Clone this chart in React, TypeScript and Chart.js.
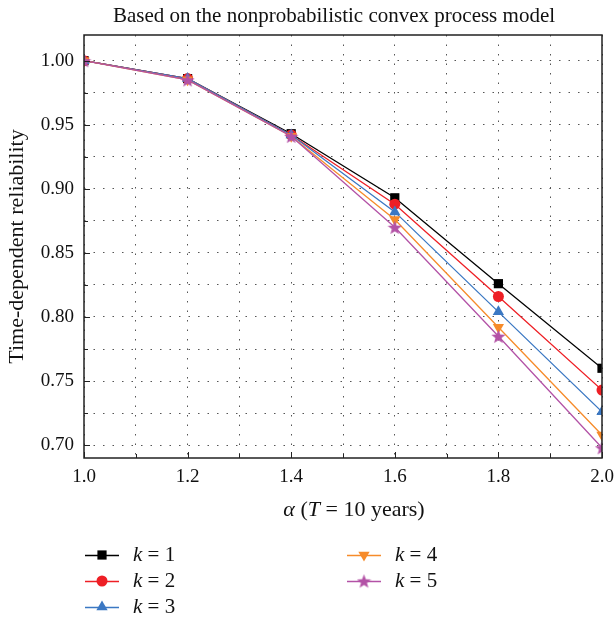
import { useEffect, useRef } from 'react';
import { Chart, registerables } from 'chart.js';

Chart.register(...registerables);

// ---- data ----
const alphaValues = [1.0, 1.2, 1.4, 1.6, 1.8, 2.0];
const k1Values = [1.0, 0.986, 0.943, 0.893, 0.826, 0.76];
const k2Values = [1.0, 0.986, 0.942, 0.888, 0.816, 0.743];
const k3Values = [1.0, 0.986, 0.942, 0.882, 0.804, 0.726];
const k4Values = [1.0, 0.985, 0.941, 0.876, 0.792, 0.708];
const k5Values = [1.0, 0.985, 0.941, 0.87, 0.785, 0.698];
const kLabels = ['1', '2', '3', '4', '5'];

const chartTitle = 'Based on the nonprobabilistic convex process model';
const yAxisTitle = 'Time-dependent reliability';

const FONT = '"Liberation Serif", "Times New Roman", serif';

const colors = ['#000000', '#ee1f25', '#3b78c3', '#f68b2a', '#b352a6'];
const markerKinds = ['rect', 'circle', 'triangle', 'tridown', 'star'];

function makeStar(color: string, size: number) {
  const c = document.createElement('canvas');
  c.width = size;
  c.height = size;
  const ctx = c.getContext('2d')!;
  const cx = size / 2;
  const cy = size / 2 + 0.8;
  const R = size / 2;
  const r = R * 0.42;
  ctx.beginPath();
  for (let i = 0; i < 10; i++) {
    const ang = -Math.PI / 2 + (i * Math.PI) / 5;
    const rad = i % 2 === 0 ? R : r;
    const x = cx + rad * Math.cos(ang);
    const y = cy + rad * Math.sin(ang);
    if (i === 0) ctx.moveTo(x, y);
    else ctx.lineTo(x, y);
  }
  ctx.closePath();
  ctx.fillStyle = color;
  ctx.fill();
  return c;
}

function drawMarker(ctx: CanvasRenderingContext2D, kind: string, x: number, y: number, color: string, star: HTMLCanvasElement) {
  ctx.save();
  ctx.fillStyle = color;
  ctx.beginPath();
  if (kind === 'rect') {
    ctx.rect(x - 4.6, y - 4.6, 9.2, 9.2);
    ctx.fill();
  } else if (kind === 'circle') {
    ctx.arc(x, y, 5.5, 0, Math.PI * 2);
    ctx.fill();
  } else if (kind === 'triangle') {
    const r = 6.5;
    ctx.moveTo(x, y - r);
    ctx.lineTo(x + r * 0.866, y + r * 0.5);
    ctx.lineTo(x - r * 0.866, y + r * 0.5);
    ctx.closePath();
    ctx.fill();
  } else if (kind === 'tridown') {
    const r = 6.5;
    ctx.moveTo(x, y + r);
    ctx.lineTo(x + r * 0.866, y - r * 0.5);
    ctx.lineTo(x - r * 0.866, y - r * 0.5);
    ctx.closePath();
    ctx.fill();
  } else if (kind === 'star') {
    ctx.drawImage(star, x - star.width / 2, y - star.height / 2);
  }
  ctx.restore();
}

function isMultiple(v: number, step: number) {
  const q = v / step;
  return Math.abs(q - Math.round(q)) < 1e-6;
}

export default function App() {
  const ref = useRef<HTMLCanvasElement | null>(null);

  useEffect(() => {
    if (!ref.current) return;
    const star = makeStar(colors[4], 15);
    const allValues = [k1Values, k2Values, k3Values, k4Values, k5Values];

    const datasets = allValues.map((vals, i) => {
      const kind = markerKinds[i];
      let pointStyle: any = kind;
      let rotation = 0;
      let radius = 5.5;
      if (kind === 'rect') radius = 6.5;
      if (kind === 'triangle') radius = 6.5;
      if (kind === 'tridown') {
        pointStyle = 'triangle';
        rotation = 180;
        radius = 6.5;
      }
      if (kind === 'star') pointStyle = star;
      return {
        label: 'k = ' + kLabels[i],
        data: alphaValues.map((a, j) => ({ x: a, y: vals[j] })),
        borderColor: colors[i],
        backgroundColor: colors[i],
        pointBackgroundColor: colors[i],
        pointBorderColor: colors[i],
        pointBorderWidth: 0,
        pointStyle,
        pointRotation: rotation,
        pointRadius: radius,
        borderWidth: 1.3,
        tension: 0,
        clip: 0,
        order: 4 - i,
      };
    });

    const decor = {
      id: 'decor',
      afterDraw(chart: any) {
        const ctx: CanvasRenderingContext2D = chart.ctx;
        const a = chart.chartArea;
        const xs = chart.scales.x;
        const ys = chart.scales.y;
        ctx.save();
        // inner ticks
        ctx.strokeStyle = '#222';
        ctx.lineWidth = 1;
        xs.ticks.forEach((t: any) => {
          if (!isMultiple(t.value, 0.1)) return;
          const px = Math.round(xs.getPixelForValue(t.value)) + 0.5;
          const len = isMultiple(t.value, 0.2) ? 6 : 4;
          ctx.beginPath();
          ctx.moveTo(px, a.bottom);
          ctx.lineTo(px, a.bottom - len);
          ctx.stroke();
        });
        ys.ticks.forEach((t: any) => {
          if (!isMultiple(t.value, 0.025)) return;
          const py = Math.round(ys.getPixelForValue(t.value)) + 0.5;
          const len = isMultiple(t.value, 0.05) ? 6 : 4;
          ctx.beginPath();
          ctx.moveTo(a.left, py);
          ctx.lineTo(a.left + len, py);
          ctx.stroke();
        });
        // frame
        ctx.strokeStyle = '#222';
        ctx.lineWidth = 1.5;
        ctx.strokeRect(a.left, a.top, a.right - a.left, a.bottom - a.top);

        // title
        ctx.fillStyle = '#111';
        ctx.font = '21px ' + FONT;
        ctx.textAlign = 'center';
        ctx.textBaseline = 'middle';
        ctx.fillText(chartTitle, 334, 16);

        // x axis title: α (T = 10 years)
        const parts: [string, boolean][] = [
          ['α', true],
          [' (', false],
          ['T', true],
          [' = 10 years)', false],
        ];
        const fNorm = '22px ' + FONT;
        const fItal = 'italic 22px ' + FONT;
        let total = 0;
        parts.forEach(([s, it]) => {
          ctx.font = it ? fItal : fNorm;
          total += ctx.measureText(s).width;
        });
        let cx = 354 - total / 2;
        ctx.textAlign = 'left';
        parts.forEach(([s, it]) => {
          ctx.font = it ? fItal : fNorm;
          ctx.fillText(s, cx, 510);
          cx += ctx.measureText(s).width;
        });

        // legend
        const slots = [
          { x: 85, y: 555 },
          { x: 85, y: 581 },
          { x: 85, y: 607 },
          { x: 347, y: 555 },
          { x: 347, y: 581 },
        ];
        chart.data.datasets.forEach((ds: any, i: number) => {
          const s = slots[i];
          ctx.strokeStyle = ds.borderColor;
          ctx.lineWidth = 1.3;
          ctx.beginPath();
          ctx.moveTo(s.x, s.y + 0.5);
          ctx.lineTo(s.x + 34, s.y + 0.5);
          ctx.stroke();
          drawMarker(ctx, markerKinds[i], s.x + 17, s.y, ds.borderColor, star);
          let tx = s.x + 48;
          ctx.fillStyle = '#111';
          ctx.font = 'italic 21px ' + FONT;
          ctx.fillText('k', tx, s.y);
          tx += ctx.measureText('k').width;
          ctx.font = '21px ' + FONT;
          ctx.fillText(' = ' + kLabels[i], tx, s.y);
        });
        ctx.restore();
      },
    };

    const chart = new Chart(ref.current, {
      type: 'line',
      data: { datasets: datasets as any },
      options: {
        animation: false,
        responsive: false,
        devicePixelRatio: 1,
        layout: { padding: { left: 0, top: 35, right: 13, bottom: 130 } },
        plugins: {
          legend: { display: false },
          title: { display: false },
          tooltip: { enabled: false },
        },
        scales: {
          x: {
            type: 'linear',
            min: 1,
            max: 2,
            afterFit: (s: any) => {
              s.height = 32;
              s.paddingLeft = 0;
              s.paddingRight = 0;
            },
            ticks: {
              stepSize: 0.1,
              color: '#111',
              padding: 8,
              maxRotation: 0,
              autoSkip: false,
              includeBounds: false,
              font: { family: FONT, size: 19 },
              callback: (v: any) => (isMultiple(Number(v), 0.2) ? Number(v).toFixed(1) : ''),
            },
            grid: { color: '#555', lineWidth: 1, drawTicks: false },
            border: { display: false, dash: [1.5, 8] },
          },
          y: {
            type: 'linear',
            min: 0.69,
            max: 1.02,
            afterFit: (s: any) => {
              s.width = 84;
              s.paddingTop = 0;
              s.paddingBottom = 0;
            },
            ticks: {
              stepSize: 0.025,
              color: '#111',
              padding: 10,
              autoSkip: false,
              includeBounds: false,
              font: { family: FONT, size: 19 },
              callback: (v: any) => {
                const n = Number(v);
                if (!isMultiple(n, 0.025)) return '';
                return isMultiple(n, 0.05) ? n.toFixed(2) : '';
              },
            },
            grid: { color: '#555', lineWidth: 1, drawTicks: false },
            border: { display: false, dash: [1.5, 8] },
            title: {
              display: true,
              text: yAxisTitle,
              color: '#111',
              font: { family: FONT, size: 22 },
              padding: { top: 4, bottom: 0 },
            },
          },
        },
      } as any,
      plugins: [decor],
    });
    return () => chart.destroy();
  }, []);

  return (
    <div style={{ position: 'absolute', left: 0, top: 0, width: 615, height: 620, background: '#fff' }}>
      <canvas ref={ref} width={615} height={620} style={{ width: 615, height: 620, display: 'block' }} />
    </div>
  );
}
